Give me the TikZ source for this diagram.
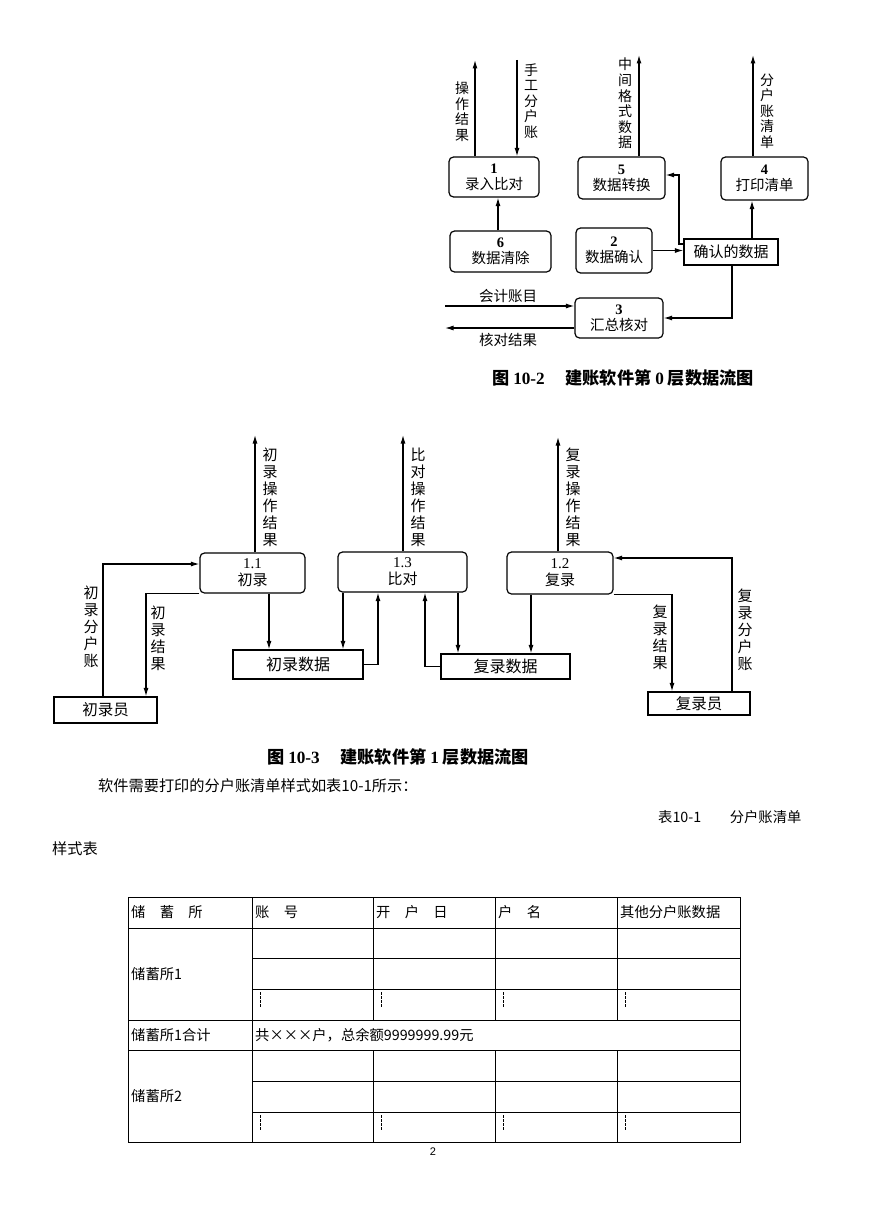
\documentclass[tikz,border=0pt]{standalone}
\usepackage{fontspec}
\setmainfont{Liberation Serif}
\newfontfamily\cjk{Noto Sans CJK SC}
\newfontfamily\pagesans{Liberation Sans}
\usetikzlibrary{arrows.meta,calc}
\begin{document}
\begin{tikzpicture}[x=1pt,y=-1pt,
  arr/.style={line width=1.2pt,-{Latex[length=8.5pt,width=5pt]}},
  proc/.style={draw,line width=1.2pt,rounded corners=4.5pt,align=center,inner sep=0pt,
     font=\fontsize{14.5}{16}\selectfont\cjk},
  store/.style={draw,line width=1.2pt,align=center,inner sep=0pt,
     font=\fontsize{15}{17}\selectfont\cjk},
  vlab/.style={align=center,inner sep=0pt,font=\fontsize{14}{15.6}\selectfont\cjk},
  vlabb/.style={align=center,inner sep=0pt,font=\fontsize{15}{17}\selectfont\cjk},
  hlab/.style={inner sep=0pt,font=\fontsize{14.5}{16}\selectfont\cjk},
  figcap/.style={inner sep=0pt,font=\fontsize{17.2}{19}\selectfont\cjk\bfseries},
  body/.style={inner sep=0pt,anchor=west,font=\fontsize{15.2}{17}\selectfont\cjk},
  tab/.style={line width=0.8pt},
  cell/.style={inner sep=0pt,anchor=west,font=\fontsize{14.3}{16}\selectfont\cjk},
  vdots/.style={line width=0.7pt,dash pattern=on 2.5pt off 1.5pt},
]
\fill[white] (0,0) rectangle (869,1228);
\useasboundingbox (0,0) rectangle (869,1228);

% ================= Figure 10-2 =================
\node[proc,minimum width=90pt,minimum height=40pt] (p1) at (494,177) {\textrm{\bfseries 1}\\录入比对};
\node[proc,minimum width=87pt,minimum height=42pt] (p5) at (621.5,178) {\textrm{\bfseries 5}\\数据转换};
\node[proc,minimum width=87pt,minimum height=43pt] (p4) at (764.5,178.5) {\textrm{\bfseries 4}\\打印清单};
\node[proc,minimum width=101pt,minimum height=41pt] (p6) at (500.5,251.5) {\textrm{\bfseries 6}\\数据清除};
\node[proc,minimum width=76pt,minimum height=45pt] (p2) at (614,250.5) {\textrm{\bfseries 2}\\数据确认};
\node[store,minimum width=94pt,minimum height=26pt] (d0) at (731,252) {确认的数据};
\node[proc,minimum width=88pt,minimum height=40pt] (p3) at (619,318) {\textrm{\bfseries 3}\\汇总核对};

\coordinate (t1) at (475,60);
\draw[arr] (p1.north -| t1) -- (t1);
\node[vlab] (l1) at (462,111.5) {操\\作\\结\\果};
\coordinate (t2) at (517,60);
\draw[arr] (t2) -- (p1.north -| t2);
\node[vlab] (l2) at (531,101) {手\\工\\分\\户\\账};
\coordinate (t5) at (639,55);
\draw[arr] (p5.north -| t5) -- (t5);
\node[vlab] (l5) at (625,103.5) {中\\间\\格\\式\\数\\据};
\coordinate (t4) at (753,55);
\draw[arr] (p4.north -| t4) -- (t4);
\node[vlab] (l4) at (767,111) {分\\户\\账\\清\\单};

\draw[arr] (p6.north -| 498,0) -- (p1.south -| 498,0);
\draw[arr] (d0.north -| 752,0) -- (p4.south -| 752,0);
\draw[arr] (d0.west |- 0,244) -- (679,244) |- (p5.east |- 0,175);
\draw[arr] (p2.east) -- (p2.east -| d0.west);
\draw[arr] (d0.south -| 732,0) |- (p3.east);
\coordinate (ina) at (445,306);
\draw[arr] (ina) -- (p3.west |- ina);
\node[hlab] (la) at (508,296) {会计账目};
\coordinate (outa) at (445,328);
\draw[arr] (p3.west |- outa) -- (outa);
\node[hlab] (lb) at (508,340) {核对结果};
\node[figcap] (c2) at (623,378) {图 \textrm{10-2}\hspace{1.2em}建账软件第 \textrm{0} 层数据流图};

% ================= Figure 10-3 =================
\node[proc,minimum width=105pt,minimum height=40pt,font=\fontsize{15}{17}\selectfont\cjk] (q11) at (252.5,573) {\textrm{1.1}\\初录};
\node[proc,minimum width=129pt,minimum height=40pt,font=\fontsize{15}{17}\selectfont\cjk] (q13) at (402.5,572) {\textrm{1.3}\\比对};
\node[proc,minimum width=106pt,minimum height=42pt,font=\fontsize{15}{17}\selectfont\cjk] (q12) at (560,573) {\textrm{1.2}\\复录};
\node[store,minimum width=130pt,minimum height=29pt,font=\fontsize{16}{18}\selectfont\cjk] (s1) at (298,664.5) {初录数据};
\node[store,minimum width=129pt,minimum height=25pt,font=\fontsize{16}{18}\selectfont\cjk] (s2) at (505.5,666.5) {复录数据};
\node[store,minimum width=103pt,minimum height=26pt,font=\fontsize{15.5}{18}\selectfont\cjk] (e1) at (105.5,710) {初录员};
\node[store,minimum width=102pt,minimum height=23pt,font=\fontsize{15.5}{18}\selectfont\cjk] (e2) at (699,703.5) {复录员};

\coordinate (u1) at (255,435);
\draw[arr] (q11.north -| u1) -- (u1);
\node[vlabb] (m1) at (270,497.5) {初\\录\\操\\作\\结\\果};
\coordinate (u3) at (403,435);
\draw[arr] (q13.north -| u3) -- (u3);
\node[vlabb] (m3) at (418,497.5) {比\\对\\操\\作\\结\\果};
\coordinate (u2) at (558,437);
\draw[arr] (q12.north -| u2) -- (u2);
\node[vlabb] (m2) at (573,497.5) {复\\录\\操\\作\\结\\果};

\draw[arr] (e1.north -| 103,0) |- (q11.west |- 0,564);
\node[vlabb] (m4) at (91,627) {初\\录\\分\\户\\账};
\draw[arr] (q11.south west) -| (e1.north -| 146,0);
\node[vlabb] (m5) at (158,638) {初\\录\\结\\果};

\draw[arr] (q11.south -| 269,0) -- (s1.north -| 269,0);
\draw[arr] (q13.south -| 343,0) -- (s1.north -| 343,0);
\draw[arr] (s1.east) -| (q13.south -| 378,0);
\draw[arr] (q13.south -| 458,0) -- (s2.north -| 458,0);
\draw[arr] (s2.west) -| (q13.south -| 425,0);
\draw[arr] (q12.south -| 531,0) -- (s2.north -| 531,0);

\draw[arr] (e2.north -| 732,0) |- (q12.east |- 0,558);
\node[vlabb] (m6) at (745,630) {复\\录\\分\\户\\账};
\draw[arr] (q12.south east) -| (e2.north -| 672,0);
\node[vlabb] (m7) at (660,637) {复\\录\\结\\果};

\node[figcap] (c3) at (398,757) {图 \textrm{10-3}\hspace{1.2em}建账软件第 \textrm{1} 层数据流图};

% ================= Body text =================
\node[body] (b1) at (98,786) {软件需要打印的分户账清单样式如表10-1所示：};
\node[body,font=\fontsize{14.3}{17}\selectfont\cjk] (b2) at (658,817) {表10-1　　分户账清单};
\node[body] (b3) at (52,849) {样式表};

% ================= Table =================
\draw[tab] (128,897) rectangle (740,1142);
\foreach \yy in {928,1020,1050} \draw[tab] (128,\yy) -- (740,\yy);
\foreach \yy in {958,989,1081,1112} \draw[tab] (252,\yy) -- (740,\yy);
\draw[tab] (252,897) -- (252,1142);
\foreach \xx in {373,495,617} {
  \draw[tab] (\xx,897) -- (\xx,1020);
  \draw[tab] (\xx,1050) -- (\xx,1142);
}
\foreach \xx in {252,373,495,617} {
  \draw[vdots] (\xx+8,992) -- (\xx+8,1007);
  \draw[vdots] (\xx+8,1115) -- (\xx+8,1130);
}
\node[cell] (h1) at (131,912.5) {储　蓄　所};
\node[cell] (h2) at (255,912.5) {账　号};
\node[cell] (h3) at (376,912.5) {开　户　日};
\node[cell] (h4) at (498,912.5) {户　名};
\node[cell] (h5) at (620,912.5) {其他分户账数据};
\node[cell] (r1) at (131,974) {储蓄所1};
\node[cell] (r2) at (131,1035) {储蓄所1合计};
\node[cell] (r3) at (255,1035) {共×××户，总余额9999999.99元};
\node[cell] (r4) at (131,1096) {储蓄所2};
\node[inner sep=0pt,font=\fontsize{11}{13}\selectfont\pagesans] (pg) at (433,1152) {2};
\end{tikzpicture}
\end{document}
